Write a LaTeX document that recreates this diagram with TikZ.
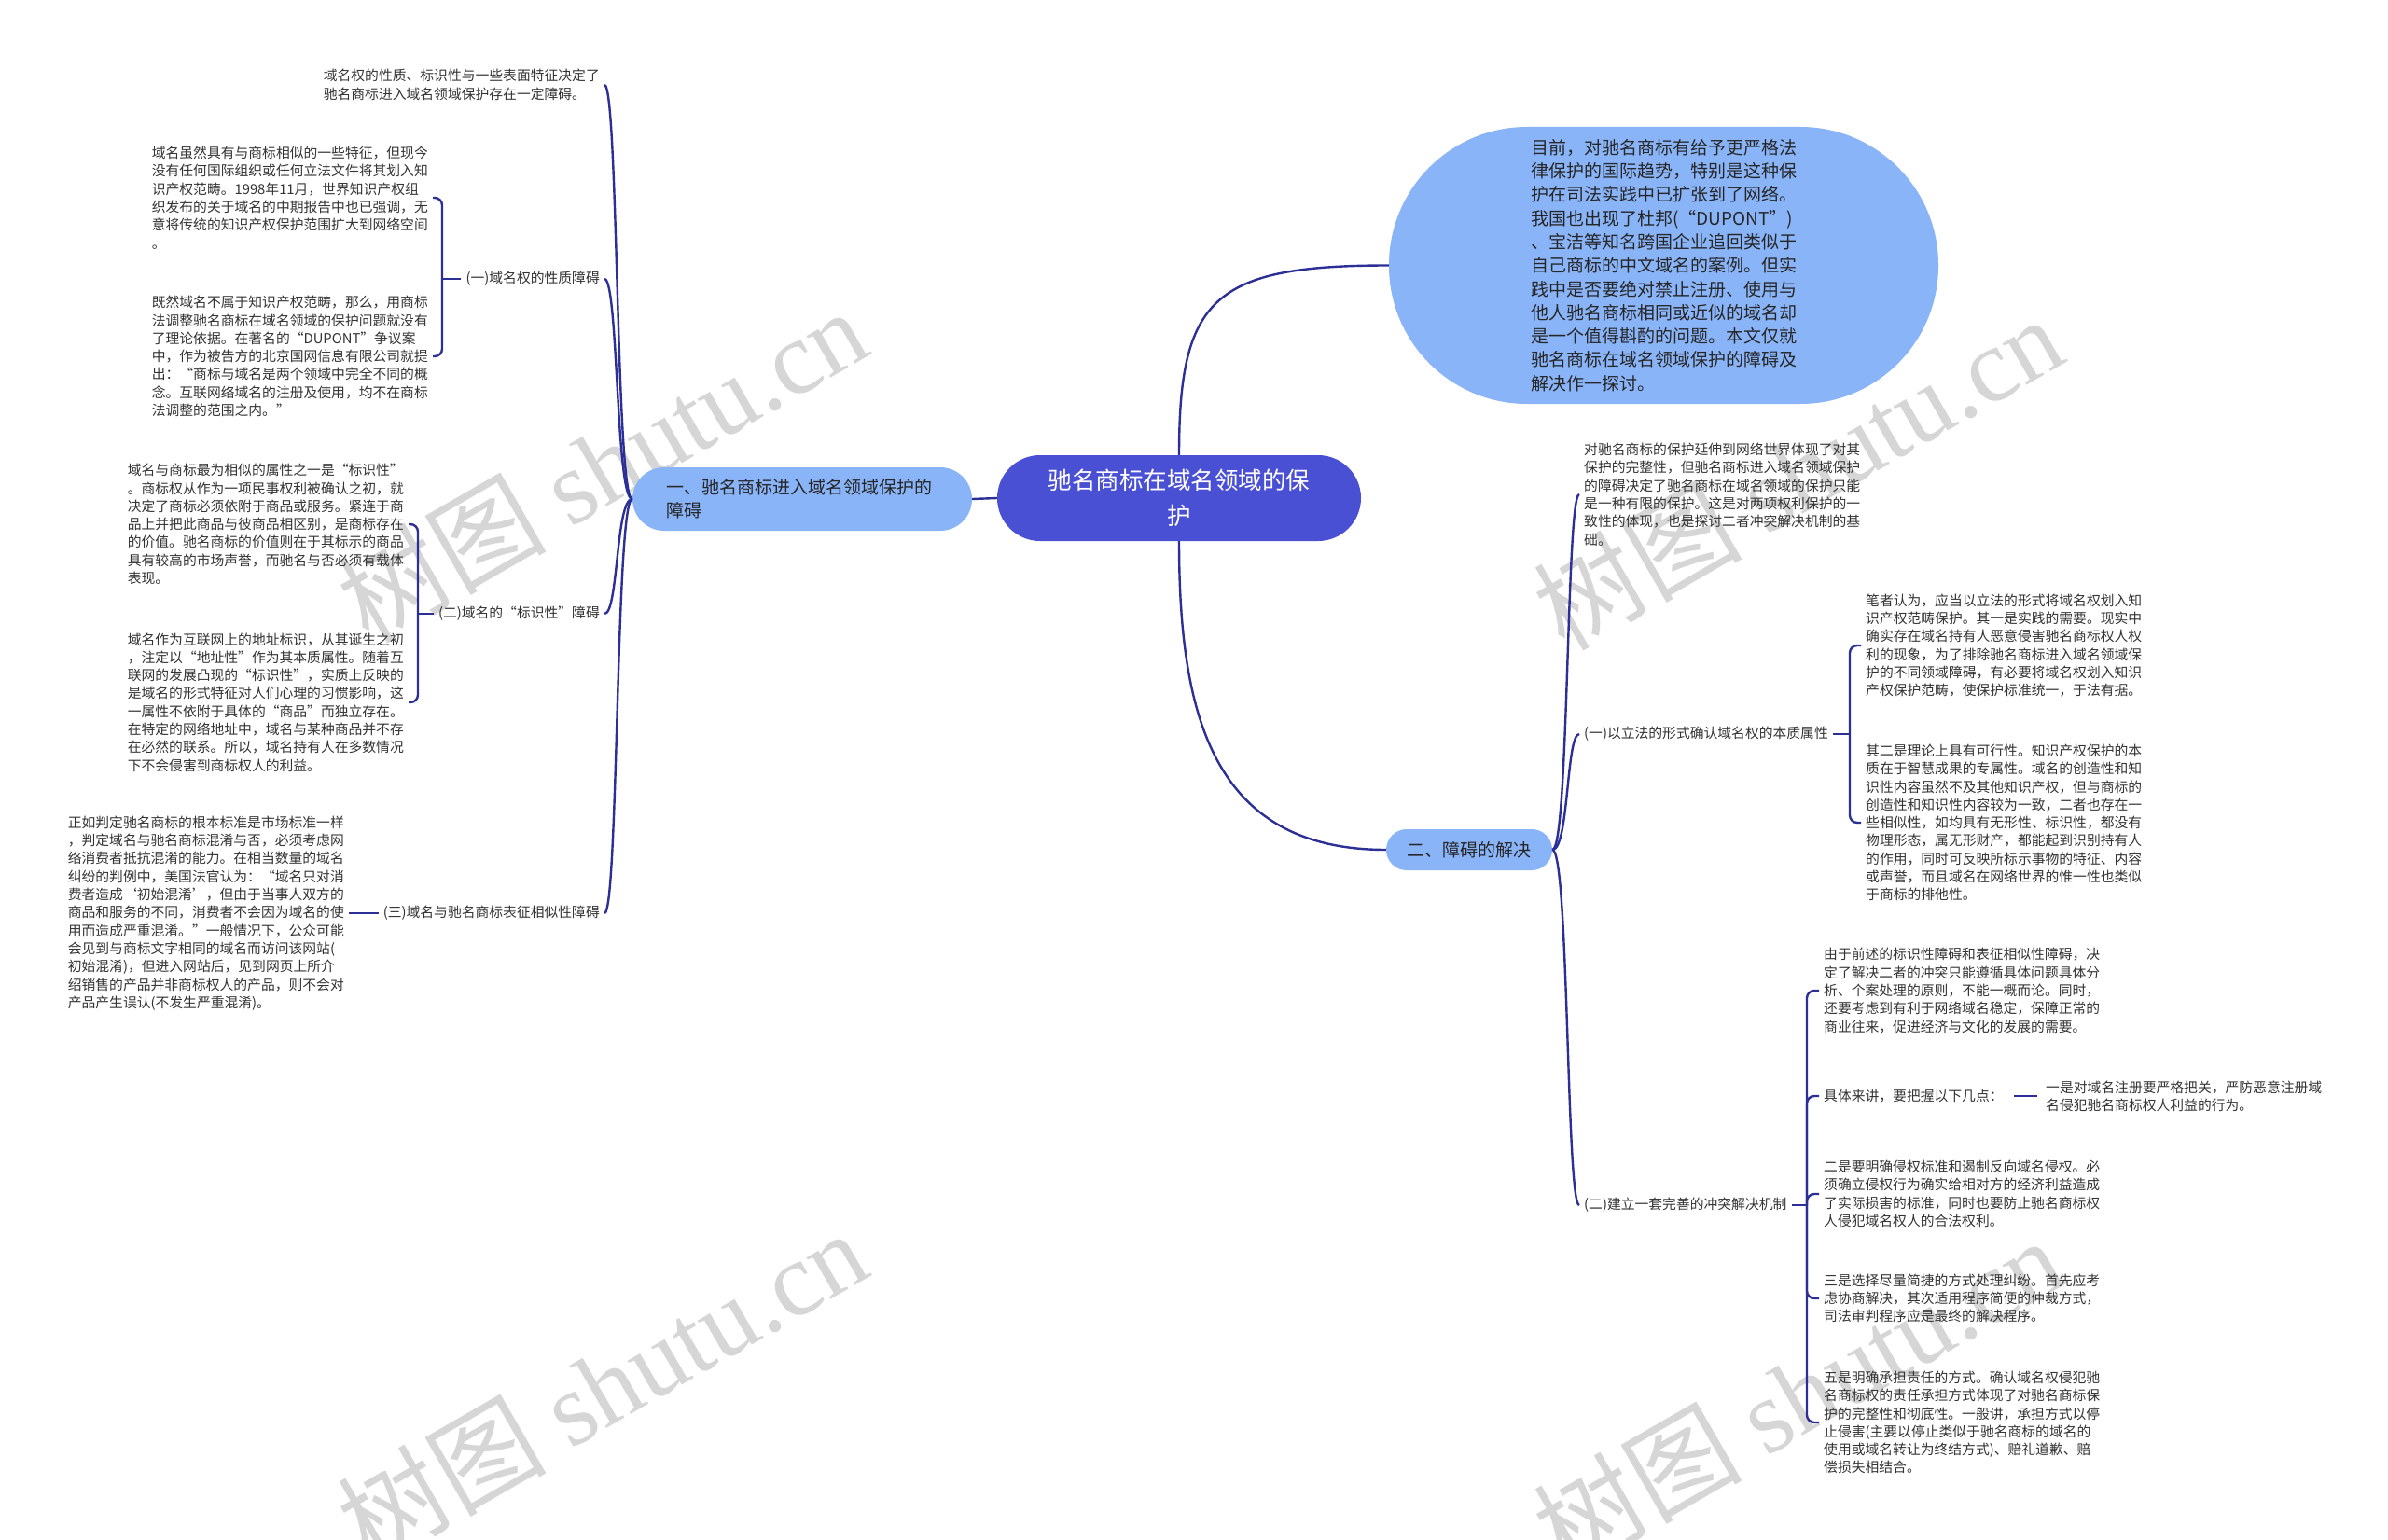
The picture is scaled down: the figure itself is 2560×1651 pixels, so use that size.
\documentclass[tikz,border=0pt]{standalone}
\usepackage{fontspec}
\setmainfont{Noto Sans CJK SC}
\newfontfamily\wmlat{Liberation Serif}
\definecolor{linec}{RGB}{44,48,150}
\definecolor{mainfill}{HTML}{4A50D4}
\definecolor{lightfill}{HTML}{8AB4F8}
\definecolor{txtc}{HTML}{333333}
\definecolor{wmc}{HTML}{D6D6D6}
\newcommand\fsmall{\fontsize{14.8}{19.3}\selectfont}
\tikzset{
  conn/.style={draw=linec, line width=2.4pt},
  txt/.style={font=\fsmall, text=txtc, align=left, inner sep=5pt},
  lbl/.style={font=\fsmall, text=txtc, align=left, inner sep=5pt},
  mainnode/.style={fill=mainfill, text=white, align=center, rounded corners=46pt,
    minimum width=390pt, minimum height=92pt, font=\fontsize{25.5}{38}\selectfont},
  subnode/.style={fill=lightfill, text=black!85, rounded corners=22pt,
    font=\fontsize{19}{25}\selectfont},
  ovalnode/.style={fill=lightfill, text=black!85, align=left, rounded corners=148pt,
    minimum width=589pt, minimum height=297pt, font=\fontsize{19}{25.3}\selectfont},
  wm/.style={text=wmc, font=\fontsize{112}{112}\selectfont, rotate=30}
}
\begin{document}
\begin{tikzpicture}[x=1pt,y=-1pt]
\fill[white] (0,0) rectangle (2560,1651);
\useasboundingbox (0,0) rectangle (2560,1651);

% watermarks
\node[wm] (w1) at (645,498) {树图 {\wmlat shutu.cn}};
\node[wm] (w2) at (1927,506) {树图 {\wmlat shutu.cn}};
\node[wm] (w3) at (645,1486) {树图 {\wmlat shutu.cn}};
\node[wm] (w4) at (1927,1494) {树图 {\wmlat shutu.cn}};

% central nodes
\node[mainnode] (M) at (1264,534) {驰名商标在域名领域的保\\护};
\node[subnode, minimum width=364pt, minimum height=68pt, rounded corners=34pt,
  text width=292pt, align=left] (N1) at (860,535) {一、驰名商标进入域名领域保护的\\障碍};
\node[subnode, minimum width=178pt, minimum height=44pt, align=center] (N2) at (1575,911) {二、障碍的解决};
\node[ovalnode] (O) at (1783.5,284.5) {目前，对驰名商标有给予更严格法\\
律保护的国际趋势，特别是这种保\\
护在司法实践中已扩张到了网络。\\
我国也出现了杜邦(“DUPONT”)\\
、宝洁等知名跨国企业追回类似于\\
自己商标的中文域名的案例。但实\\
践中是否要绝对禁止注册、使用与\\
他人驰名商标相同或近似的域名却\\
是一个值得斟酌的问题。本文仅就\\
驰名商标在域名领域保护的障碍及\\
解决作一探讨。};

% left branch
\node[txt, anchor=east] (T1) at (648,91) {域名权的性质、标识性与一些表面特征决定了\\
驰名商标进入域名领域保护存在一定障碍。};
\node[lbl, anchor=east] (L1) at (648,299) {(一)域名权的性质障碍};
\node[txt, anchor=east] (B2) at (464,212) {域名虽然具有与商标相似的一些特征，但现今\\
没有任何国际组织或任何立法文件将其划入知\\
识产权范畴。1998年11月，世界知识产权组\\
织发布的关于域名的中期报告中也已强调，无\\
意将传统的知识产权保护范围扩大到网络空间\\
。};
\node[txt, anchor=east] (B3) at (464,382) {既然域名不属于知识产权范畴，那么，用商标\\
法调整驰名商标在域名领域的保护问题就没有\\
了理论依据。在著名的“DUPONT”争议案\\
中，作为被告方的北京国网信息有限公司就提\\
出：“商标与域名是两个领域中完全不同的概\\
念。互联网络域名的注册及使用，均不在商标\\
法调整的范围之内。”};
\node[lbl, anchor=east] (L2) at (648,658) {(二)域名的“标识性”障碍};
\node[txt, anchor=east] (B4) at (438,562) {域名与商标最为相似的属性之一是“标识性”\\
。商标权从作为一项民事权利被确认之初，就\\
决定了商标必须依附于商品或服务。紧连于商\\
品上并把此商品与彼商品相区别，是商标存在\\
的价值。驰名商标的价值则在于其标示的商品\\
具有较高的市场声誉，而驰名与否必须有载体\\
表现。};
\node[txt, anchor=east] (B5) at (438,753) {域名作为互联网上的地址标识，从其诞生之初\\
，注定以“地址性”作为其本质属性。随着互\\
联网的发展凸现的“标识性”，实质上反映的\\
是域名的形式特征对人们心理的习惯影响，这\\
一属性不依附于具体的“商品”而独立存在。\\
在特定的网络地址中，域名与某种商品并不存\\
在必然的联系。所以，域名持有人在多数情况\\
下不会侵害到商标权人的利益。};
\node[lbl, anchor=east] (L3) at (648,979) {(三)域名与驰名商标表征相似性障碍};
\node[txt, anchor=east] (B6) at (374,979) {正如判定驰名商标的根本标准是市场标准一样\\
，判定域名与驰名商标混淆与否，必须考虑网\\
络消费者抵抗混淆的能力。在相当数量的域名\\
纠纷的判例中，美国法官认为：“域名只对消\\
费者造成‘初始混淆’，但由于当事人双方的\\
商品和服务的不同，消费者不会因为域名的使\\
用而造成严重混淆。”一般情况下，公众可能\\
会见到与商标文字相同的域名而访问该网站(\\
初始混淆)，但进入网站后，见到网页上所介\\
绍销售的产品并非商标权人的产品，则不会对\\
产品产生误认(不发生严重混淆)。};

% right branch
\node[txt, anchor=west] (R1) at (1693,530) {对驰名商标的保护延伸到网络世界体现了对其\\
保护的完整性，但驰名商标进入域名领域保护\\
的障碍决定了驰名商标在域名领域的保护只能\\
是一种有限的保护。这是对两项权利保护的一\\
致性的体现，也是探讨二者冲突解决机制的基\\
础。};
\node[lbl, anchor=west] (L4) at (1693,787) {(一)以立法的形式确认域名权的本质属性};
\node[txt, anchor=west] (R2) at (1995,692) {笔者认为，应当以立法的形式将域名权划入知\\
识产权范畴保护。其一是实践的需要。现实中\\
确实存在域名持有人恶意侵害驰名商标权人权\\
利的现象，为了排除驰名商标进入域名领域保\\
护的不同领域障碍，有必要将域名权划入知识\\
产权保护范畴，使保护标准统一，于法有据。};
\node[txt, anchor=west] (R3) at (1995,882) {其二是理论上具有可行性。知识产权保护的本\\
质在于智慧成果的专属性。域名的创造性和知\\
识性内容虽然不及其他知识产权，但与商标的\\
创造性和知识性内容较为一致，二者也存在一\\
些相似性，如均具有无形性、标识性，都没有\\
物理形态，属无形财产，都能起到识别持有人\\
的作用，同时可反映所标示事物的特征、内容\\
或声誉，而且域名在网络世界的惟一性也类似\\
于商标的排他性。};
\node[lbl, anchor=west] (L5) at (1693,1292) {(二)建立一套完善的冲突解决机制};
\node[txt, anchor=west] (R4) at (1950,1062) {由于前述的标识性障碍和表征相似性障碍，决\\
定了解决二者的冲突只能遵循具体问题具体分\\
析、个案处理的原则，不能一概而论。同时，\\
还要考虑到有利于网络域名稳定，保障正常的\\
商业往来，促进经济与文化的发展的需要。};
\node[lbl, anchor=west] (R5) at (1950,1175) {具体来讲，要把握以下几点：};
\node[txt, anchor=west] (R6) at (2188,1175) {一是对域名注册要严格把关，严防恶意注册域\\
名侵犯驰名商标权人利益的行为。};
\node[txt, anchor=west] (R7) at (1950,1280) {二是要明确侵权标准和遏制反向域名侵权。必\\
须确立侵权行为确实给相对方的经济利益造成\\
了实际损害的标准，同时也要防止驰名商标权\\
人侵犯域名权人的合法权利。};
\node[txt, anchor=west] (R8) at (1950,1392) {三是选择尽量简捷的方式处理纠纷。首先应考\\
虑协商解决，其次适用程序简便的仲裁方式，\\
司法审判程序应是最终的解决程序。};
\node[txt, anchor=west] (R9) at (1950,1525) {五是明确承担责任的方式。确认域名权侵犯驰\\
名商标权的责任承担方式体现了对驰名商标保\\
护的完整性和彻底性。一般讲，承担方式以停\\
止侵害(主要以停止类似于驰名商标的域名的\\
使用或域名转让为终结方式)、赔礼道歉、赔\\
偿损失相结合。};

% connectors from main
\draw[conn] (M.west) -- (N1.east);
\draw[conn] (M.north) .. controls (1264,320) and (1300,284.5) .. (O.west);
\draw[conn] (M.south) .. controls (1264,767) and (1300,911) .. (N2.west);

% left tree
\draw[conn] (N1.west) .. controls (660,535) and (663,91) .. (T1.east);
\draw[conn] (N1.west) .. controls (660,535) and (663,299) .. (L1.east);
\draw[conn] (N1.west) .. controls (660,535) and (663,658) .. (L2.east);
\draw[conn] (N1.west) .. controls (660,535) and (663,979) .. (L3.east);

\coordinate (j1) at (474,299);
\draw[conn] (L1.west) -- (j1);
\draw[conn, rounded corners=8pt] (j1) |- (B2.east);
\draw[conn, rounded corners=8pt] (j1) |- (B3.east);

\coordinate (j2) at (448,658);
\draw[conn] (L2.west) -- (j2);
\draw[conn, rounded corners=8pt] (j2) |- (B4.east);
\draw[conn, rounded corners=8pt] (j2) |- (B5.east);

\draw[conn] (L3.west) -- (B6.east);

% right tree
\draw[conn] (N2.east) .. controls (1682,911) and (1679,530) .. (R1.west);
\draw[conn] (N2.east) .. controls (1682,911) and (1679,787) .. (L4.west);
\draw[conn] (N2.east) .. controls (1682,911) and (1679,1292) .. (L5.west);

\coordinate (j4) at (1983,787);
\draw[conn] (L4.east) -- (j4);
\draw[conn, rounded corners=8pt] (j4) |- (R2.west);
\draw[conn, rounded corners=8pt] (j4) |- (R3.west);

\coordinate (j5) at (1937,1292);
\draw[conn] (L5.east) -- (j5);
\draw[conn, rounded corners=8pt] (j5) |- (R4.west);
\draw[conn, rounded corners=8pt] (j5) |- (R5.west);
\draw[conn, rounded corners=8pt] (j5) |- (R7.west);
\draw[conn, rounded corners=8pt] (j5) |- (R8.west);
\draw[conn, rounded corners=8pt] (j5) |- (R9.west);
\draw[conn, shorten <=6pt, shorten >=4pt] (R5.east) -- (R6.west);
\end{tikzpicture}
\end{document}
